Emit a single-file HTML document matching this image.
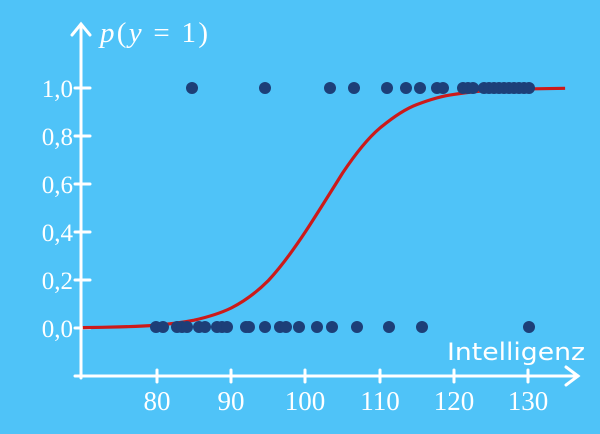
<!DOCTYPE html>
<html><head><meta charset="utf-8"><style>
html,body{margin:0;padding:0;background:#4fc3f8;}
svg{display:block}
</style></head><body>
<svg width="600" height="434" viewBox="0 0 600 434" xmlns="http://www.w3.org/2000/svg">
<rect width="600" height="434" fill="#4fc3f8"/>
<g stroke="#fff" stroke-width="3" fill="none" stroke-linecap="round">
<line x1="81" y1="378" x2="81" y2="26"/>
<polyline points="72,35 81,24 90,35"/>
<line x1="75" y1="376" x2="578" y2="376"/>
<polyline points="566,367 578,376 566,385"/>
<line x1="75" y1="88" x2="90" y2="88"/>
<line x1="75" y1="136" x2="90" y2="136"/>
<line x1="75" y1="184" x2="90" y2="184"/>
<line x1="75" y1="232" x2="90" y2="232"/>
<line x1="75" y1="280" x2="90" y2="280"/>
<line x1="75" y1="328" x2="90" y2="328"/>
<line x1="157" y1="370" x2="157" y2="382"/>
<line x1="231" y1="370" x2="231" y2="382"/>
<line x1="305" y1="370" x2="305" y2="382"/>
<line x1="380" y1="370" x2="380" y2="382"/>
<line x1="454" y1="370" x2="454" y2="382"/>
<line x1="528" y1="370" x2="528" y2="382"/>
</g>
<g fill="#fff" font-family="Liberation Serif, serif" font-size="25" text-anchor="end">
<text x="73" y="97">1,0</text><text x="73" y="145">0,8</text><text x="73" y="193">0,6</text>
<text x="73" y="241">0,4</text><text x="73" y="289">0,2</text><text x="73" y="337">0,0</text>
</g>
<g fill="#fff" font-family="Liberation Serif, serif" font-size="27" text-anchor="middle">
<text x="157" y="410">80</text><text x="231" y="410">90</text><text x="305" y="410">100</text>
<text x="380" y="410">110</text><text x="454" y="410">120</text><text x="528" y="410">130</text>
</g>
<text x="100" y="42" fill="#fff" font-family="Liberation Serif, serif" font-size="29" textLength="108"><tspan font-style="italic">p</tspan>(<tspan font-style="italic">y</tspan> = 1)</text>
<text x="585" y="360" fill="#fff" font-family="DejaVu Sans, sans-serif" font-size="24" text-anchor="end" textLength="138" lengthAdjust="spacingAndGlyphs">Intelligenz</text>
<path fill="none" stroke="#cc1a1a" stroke-width="3.2" stroke-linejoin="round" d="M82.8,327.6 C92,327.5 110,327.2 119.9,326.9 C130,326.6 148,325.8 157,325.1 C170,324 185,322 194.1,320.2 C208,317 222,312.5 231.2,308 C243,302 257,292 268.4,280.5 C280,268 294,249 305.4,231.8 C317,214 332,190 342.6,173 C354,156 367,139 379.6,128.3 C392,118 405,109 416.7,104.6 C430,99.5 443,95.8 453.8,94.4 C470,92 485,90.7 490.9,90.4 C510,89.4 540,88.6 565.1,88.3"/>
<g fill="#1d3f78">
<circle cx="156" cy="327" r="6"/><circle cx="163" cy="327" r="6"/><circle cx="177" cy="327" r="6"/><circle cx="182" cy="327" r="6"/><circle cx="187" cy="327" r="6"/><circle cx="199" cy="327" r="6"/><circle cx="205" cy="327" r="6"/><circle cx="217" cy="327" r="6"/><circle cx="222" cy="327" r="6"/><circle cx="227" cy="327" r="6"/><circle cx="246" cy="327" r="6"/><circle cx="249" cy="327" r="6"/><circle cx="265" cy="327" r="6"/><circle cx="280" cy="327" r="6"/><circle cx="286" cy="327" r="6"/><circle cx="299" cy="327" r="6"/><circle cx="317" cy="327" r="6"/><circle cx="332" cy="327" r="6"/><circle cx="357" cy="327" r="6"/><circle cx="389" cy="327" r="6"/><circle cx="422" cy="327" r="6"/><circle cx="529" cy="327" r="6"/>
<circle cx="192" cy="88" r="6"/><circle cx="265" cy="88" r="6"/><circle cx="330" cy="88" r="6"/><circle cx="354" cy="88" r="6"/><circle cx="387" cy="88" r="6"/><circle cx="406" cy="88" r="6"/><circle cx="420" cy="88" r="6"/><circle cx="437" cy="88" r="6"/><circle cx="443" cy="88" r="6"/><circle cx="463" cy="88" r="6"/><circle cx="468" cy="88" r="6"/><circle cx="473" cy="88" r="6"/><circle cx="484" cy="88" r="6"/><circle cx="489" cy="88" r="6"/><circle cx="494" cy="88" r="6"/><circle cx="499" cy="88" r="6"/><circle cx="504" cy="88" r="6"/><circle cx="509" cy="88" r="6"/><circle cx="514" cy="88" r="6"/><circle cx="519" cy="88" r="6"/><circle cx="524" cy="88" r="6"/><circle cx="529" cy="88" r="6"/>
</g>
</svg>
</body></html>
